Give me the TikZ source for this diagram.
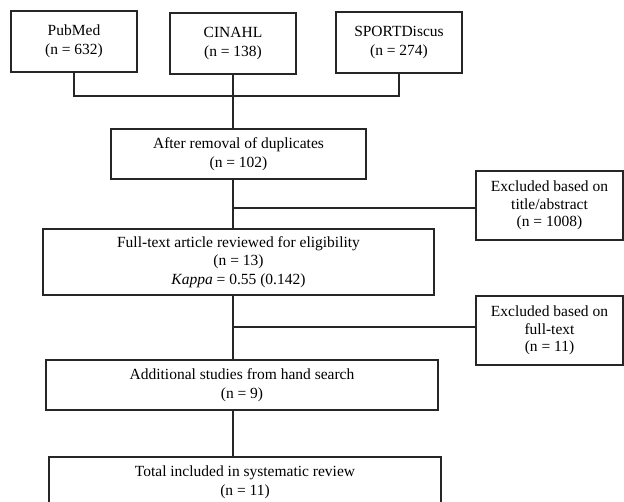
\documentclass[tikz,border=0pt]{standalone}
\usepackage{fontspec}
\setmainfont{Liberation Serif}
\begin{document}
\begin{tikzpicture}[x=1pt,y=-1pt,
  box/.style={draw=black!85, line width=1.1pt, rectangle, align=center, inner sep=0pt,
    font=\fontsize{15.5}{18.8}\selectfont},
  sidebox/.style={box, font=\fontsize{15.5}{17.5}\selectfont},
  link/.style={draw=black!85, line width=1.1pt}]
\clip (0,0) rectangle (624,502);
\fill[white] (0,0) rectangle (624,502);
% top row
\node[box, minimum width=126pt, minimum height=61pt] (pub) at (74,41.5) {PubMed\\(n = 632)};
\node[box, minimum width=126pt, minimum height=61pt] (cin) at (233,43.5) {CINAHL\\(n = 138)};
\node[box, minimum width=126pt, minimum height=61pt] (spo) at (399,42.5) {SPORTDiscus\\(n = 274)};
% main column
\node[box, minimum width=255pt, minimum height=50pt] (dup) at (238.5,154) {After removal of duplicates\\(n = 102)};
\node[box, minimum width=391pt, minimum height=66pt] (ft) at (238.5,262) {Full-text article reviewed for eligibility\\(n = 13)\\\textit{Kappa} = 0.55 (0.142)};
\node[box, minimum width=392pt, minimum height=50pt] (add) at (242,385) {Additional studies from hand search\\(n = 9)};
\node[box, minimum width=392pt, minimum height=50pt] (tot) at (245,482) {Total included in systematic review\\(n = 11)};
% exclusion boxes
\node[sidebox, minimum width=147pt, minimum height=69pt] (ex1) at (549.5,205.5) {Excluded based on\\title/abstract\\(n = 1008)};
\node[sidebox, minimum width=147pt, minimum height=69pt] (ex2) at (549.5,330.5) {Excluded based on\\full-text\\(n = 11)};
% junctions
\coordinate (m) at (233,96);
\coordinate (j1) at (233,208);
\coordinate (j2) at (233,327);
% connectors
\draw[link] (pub.south) -- (pub.south |- m) -- (spo.south |- m) -- (spo.south);
\draw[link] (cin.south) -- (cin.south |- dup.north);
\draw[link] (dup.south -| cin.south) -- (ft.north -| cin.south);
\draw[link] (j1) -- (j1 -| ex1.west);
\draw[link] (ft.south -| cin.south) -- (add.north -| cin.south);
\draw[link] (j2) -- (j2 -| ex2.west);
\draw[link] (add.south -| cin.south) -- (tot.north -| cin.south);
\end{tikzpicture}
\end{document}
